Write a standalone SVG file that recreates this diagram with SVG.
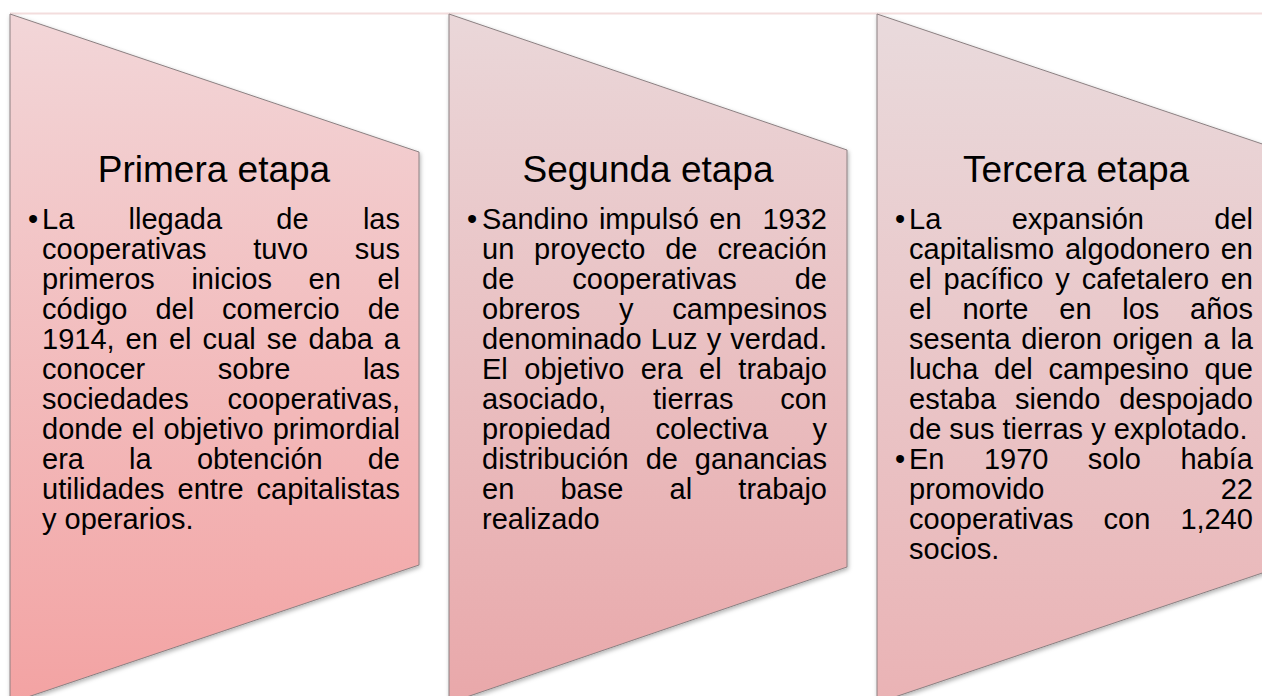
<svg xmlns="http://www.w3.org/2000/svg" width="1262" height="696" viewBox="0 0 1262 696">
<defs>
<linearGradient id="g1" x1="0" y1="14" x2="0" y2="700" gradientUnits="userSpaceOnUse"><stop offset="0" stop-color="#f2d6d8"/><stop offset="1" stop-color="#f3a3a3"/></linearGradient>
<linearGradient id="g2" x1="0" y1="14" x2="0" y2="700" gradientUnits="userSpaceOnUse"><stop offset="0" stop-color="#ead7d9"/><stop offset="1" stop-color="#e9a8aa"/></linearGradient>
<linearGradient id="g3" x1="0" y1="14" x2="0" y2="700" gradientUnits="userSpaceOnUse"><stop offset="0" stop-color="#e9dadc"/><stop offset="1" stop-color="#eab3b5"/></linearGradient>
<filter id="sh" x="-5%" y="-5%" width="115%" height="115%"><feDropShadow dx="1" dy="2" stdDeviation="2" flood-color="#000" flood-opacity="0.3"/></filter>
</defs>
<style>
.shape{stroke:#8c8082;stroke-width:1;filter:url(#sh)}
.t{font-family:"Liberation Sans",Arial,sans-serif;font-size:37px;fill:#000;text-anchor:middle}
.b{font-family:"Liberation Sans",Arial,sans-serif;font-size:29px;fill:#000}
.e{text-anchor:end}
</style>
<rect width="1262" height="696" fill="#fff"/>
<line x1="10" y1="13.5" x2="1262" y2="13.5" stroke="#f3dddd" stroke-width="2"/>
<g id="connectors"/>
<g id="node-primera">
<polygon class="shape" fill="url(#g1)" points="10,14 419,152 419,565 10,703"/>
<text class="t" x="214" y="182">Primera etapa</text>
<g class="b">
<text x="28" y="229">•</text>
<text y="229"><tspan x="42">La</tspan><tspan x="128.5">llegada</tspan><tspan x="276.3">de</tspan><tspan class="e" x="400">las</tspan></text>
<text y="259"><tspan x="42">cooperativas</tspan><tspan x="253.3">tuvo</tspan><tspan class="e" x="400">sus</tspan></text>
<text y="289"><tspan x="42">primeros</tspan><tspan x="191.4">inicios</tspan><tspan x="308.6">en</tspan><tspan class="e" x="400">el</tspan></text>
<text y="319"><tspan x="42">código</tspan><tspan x="155.4">del</tspan><tspan x="222.1">comercio</tspan><tspan class="e" x="400">de</tspan></text>
<text y="349"><tspan x="42">1914,</tspan><tspan x="125.6">en</tspan><tspan x="168.9">el</tspan><tspan x="202.5">cual</tspan><tspan x="266.7">se</tspan><tspan x="308.4">daba</tspan><tspan class="e" x="400">a</tspan></text>
<text y="379"><tspan x="42">conocer</tspan><tspan x="217.8">sobre</tspan><tspan class="e" x="400">las</tspan></text>
<text y="409"><tspan x="42">sociedades</tspan><tspan class="e" x="400">cooperativas,</tspan></text>
<text y="439"><tspan x="42">donde</tspan><tspan x="131.8">el</tspan><tspan x="163.6">objetivo</tspan><tspan class="e" x="400">primordial</tspan></text>
<text y="469"><tspan x="42">era</tspan><tspan x="129.1">la</tspan><tspan x="196.9">obtención</tspan><tspan class="e" x="400">de</tspan></text>
<text y="499"><tspan x="42">utilidades</tspan><tspan x="177.5">entre</tspan><tspan class="e" x="400">capitalistas</tspan></text>
<text x="42" y="529">y operarios.</text>
</g>
</g>
<g id="node-segunda">
<polygon class="shape" fill="url(#g2)" points="449,14 847,150 847,567 449,703"/>
<text class="t" x="648" y="182">Segunda etapa</text>
<g class="b">
<text x="467" y="229">•</text>
<text y="229"><tspan x="482">Sandino</tspan><tspan x="598.9">impulsó</tspan><tspan x="709.3">en</tspan><tspan class="e" x="827">1932</tspan></text>
<text y="259"><tspan x="482">un</tspan><tspan x="534.1">proyecto</tspan><tspan x="665.2">de</tspan><tspan class="e" x="827">creación</tspan></text>
<text y="289"><tspan x="482">de</tspan><tspan x="572.3">cooperativas</tspan><tspan class="e" x="827">de</tspan></text>
<text y="319"><tspan x="482">obreros</tspan><tspan x="619">y</tspan><tspan class="e" x="827">campesinos</tspan></text>
<text y="349"><tspan x="482">denominado</tspan><tspan x="650.8">Luz</tspan><tspan x="706.7">y</tspan><tspan class="e" x="827">verdad.</tspan></text>
<text y="379"><tspan x="482">El</tspan><tspan x="524.3">objetivo</tspan><tspan x="640.7">era</tspan><tspan x="699.1">el</tspan><tspan class="e" x="827">trabajo</tspan></text>
<text y="409"><tspan x="482">asociado,</tspan><tspan x="652.9">tierras</tspan><tspan class="e" x="827">con</tspan></text>
<text y="439"><tspan x="482">propiedad</tspan><tspan x="655.4">colectiva</tspan><tspan class="e" x="827">y</tspan></text>
<text y="469"><tspan x="482">distribución</tspan><tspan x="645.7">de</tspan><tspan class="e" x="827">ganancias</tspan></text>
<text y="499"><tspan x="482">en</tspan><tspan x="560.4">base</tspan><tspan x="669.5">al</tspan><tspan class="e" x="827">trabajo</tspan></text>
<text x="482" y="529">realizado</text>
</g>
</g>
<g id="node-tercera">
<polygon class="shape" fill="url(#g3)" points="877,14 1286,152 1286,565 877,703"/>
<text class="t" x="1076" y="182">Tercera etapa</text>
<g class="b">
<text x="895" y="229">•</text>
<text y="229"><tspan x="909">La</tspan><tspan x="1011.7">expansión</tspan><tspan class="e" x="1253">del</tspan></text>
<text y="259"><tspan x="909">capitalismo</tspan><tspan x="1064.9">algodonero</tspan><tspan class="e" x="1253">en</tspan></text>
<text y="289"><tspan x="909">el</tspan><tspan x="943.5">pacífico</tspan><tspan x="1055.3">y</tspan><tspan x="1081.7">cafetalero</tspan><tspan class="e" x="1253">en</tspan></text>
<text y="319"><tspan x="909">el</tspan><tspan x="962.4">norte</tspan><tspan x="1059.3">en</tspan><tspan x="1122.3">los</tspan><tspan class="e" x="1253">años</tspan></text>
<text y="349"><tspan x="909">sesenta</tspan><tspan x="1021.2">dieron</tspan><tspan x="1112.4">origen</tspan><tspan x="1203.6">a</tspan><tspan class="e" x="1253">la</tspan></text>
<text y="379"><tspan x="909">lucha</tspan><tspan x="994.1">del</tspan><tspan x="1048.6">campesino</tspan><tspan class="e" x="1253">que</tspan></text>
<text y="409"><tspan x="909">estaba</tspan><tspan x="1015">siendo</tspan><tspan class="e" x="1253">despojado</tspan></text>
<text x="909" y="439">de sus tierras y explotado.</text>
<text x="895" y="469">•</text>
<text y="469"><tspan x="909">En</tspan><tspan x="983.9">1970</tspan><tspan x="1087.8">solo</tspan><tspan class="e" x="1253">había</tspan></text>
<text y="499"><tspan x="909">promovido</tspan><tspan class="e" x="1253">22</tspan></text>
<text y="529"><tspan x="909">cooperativas</tspan><tspan x="1103.6">con</tspan><tspan class="e" x="1253">1,240</tspan></text>
<text x="909" y="559">socios.</text>
</g>
</g>
</svg>
